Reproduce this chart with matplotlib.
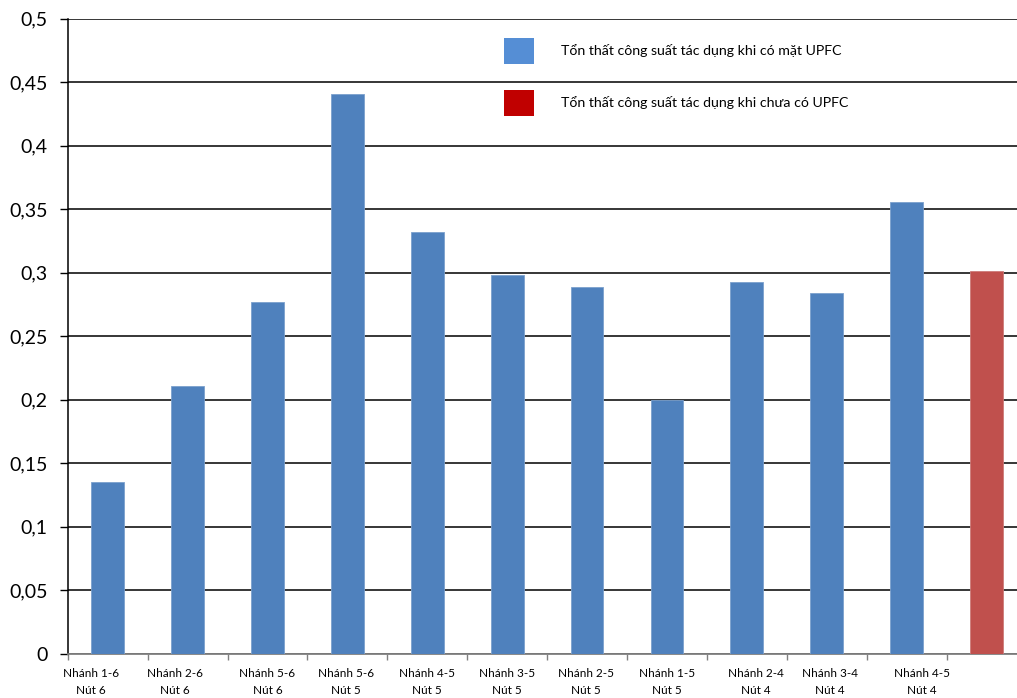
import numpy as np
import matplotlib
matplotlib.use('Agg')
import matplotlib.pyplot as plt
import matplotlib.transforms as mtransforms
from matplotlib.patches import Patch
from matplotlib.ticker import FuncFormatter, MultipleLocator

plt.rcParams['font.family'] = ['Lato', 'Noto Sans', 'DejaVu Sans']

# du lieu
nhanh = ['Nhánh 1-6\nNút 6', 'Nhánh 2-6\nNút 6', 'Nhánh 5-6\nNút 6', 'Nhánh 5-6\nNút 5',
         'Nhánh 4-5\nNút 5', 'Nhánh 3-5\nNút 5', 'Nhánh 2-5\nNút 5', 'Nhánh 1-5\nNút 5',
         'Nhánh 2-4\nNút 4', 'Nhánh 3-4\nNút 4', 'Nhánh 4-5\nNút 4', '']
ton_that_co_upfc = [0.135, 0.211, 0.277, 0.441, 0.332, 0.298, 0.289, 0.200, 0.293, 0.284, 0.356]
ton_that_chua_upfc = [0.301]
nhan_co = 'Tổn thất công suất tác dụng khi có mặt UPFC'
nhan_chua = 'Tổn thất công suất tác dụng khi chưa có UPFC'

# lech ngang cua nhan truc x (pixel), giong Excel
lech_nhan = [-17, -12.5, 0, -1.5, 0, 0, -1.5, 0, 9, 3, 15, 0]

W, H = 1017, 698
fig = plt.figure(figsize=(W / 100, H / 100), dpi=100)
# truc ve rong hon hinh mot chut o ben phai (nhu anh goc)
ax = fig.add_axes([67.7 / W, 1 - 653.7 / H, (1026.5 - 67.7) / W, (653.7 - 18.7) / H])

x = np.arange(len(nhanh))
n_co = len(ton_that_co_upfc)
ax.bar(x[:n_co], ton_that_co_upfc, width=0.41, color='#4F81BD',
       edgecolor='#7BA0CD', linewidth=0.6, zorder=3)
ax.bar(x[n_co:], ton_that_chua_upfc, width=0.41, color='#C0504D',
       edgecolor='#CD7B79', linewidth=0.6, zorder=3)

ax.set_xlim(-0.5, len(nhanh) - 0.5)
ax.set_ylim(0, 0.5)
ax.yaxis.set_major_locator(MultipleLocator(0.05))
ax.yaxis.set_major_formatter(FuncFormatter(lambda v, p: ('%g' % round(v, 2)).replace('.', ',')))
ax.grid(axis='y', color='black', linewidth=1.1, zorder=0)

ax.set_xticks(x)
ax.set_xticklabels(nhanh, fontsize=8.5, linespacing=1.75)
ax.set_xticks(np.arange(len(nhanh) + 1) - 0.5, minor=True)
ax.tick_params(axis='x', which='major', length=0, pad=10)
ax.tick_params(axis='x', which='minor', length=4.5, color='#808080', width=1)
ax.tick_params(axis='y', length=5.5, width=1, pad=9, labelsize=14)

for lbl, d in zip(ax.get_xticklabels(), lech_nhan):
    lbl.set_transform(lbl.get_transform() + mtransforms.Affine2D().translate(d, 0))

for s in ['top', 'right']:
    ax.spines[s].set_visible(False)
ax.spines['left'].set_linewidth(1.1)
ax.spines['bottom'].set_color('#808080')
ax.spines['bottom'].set_linewidth(1.3)

handles = [Patch(facecolor='#558ED5', edgecolor='none'),
           Patch(facecolor='#C00000', edgecolor='none')]
ax.legend(handles, [nhan_co, nhan_chua], loc='upper left',
          bbox_to_anchor=(504 / W, 1 - 38 / H), bbox_transform=fig.transFigure,
          frameon=False, fontsize=10.2, borderpad=0, borderaxespad=0,
          handlelength=2.1, handleheight=2.45, handletextpad=1.9, labelspacing=1.8)

fig.savefig('out.png', dpi=100)
